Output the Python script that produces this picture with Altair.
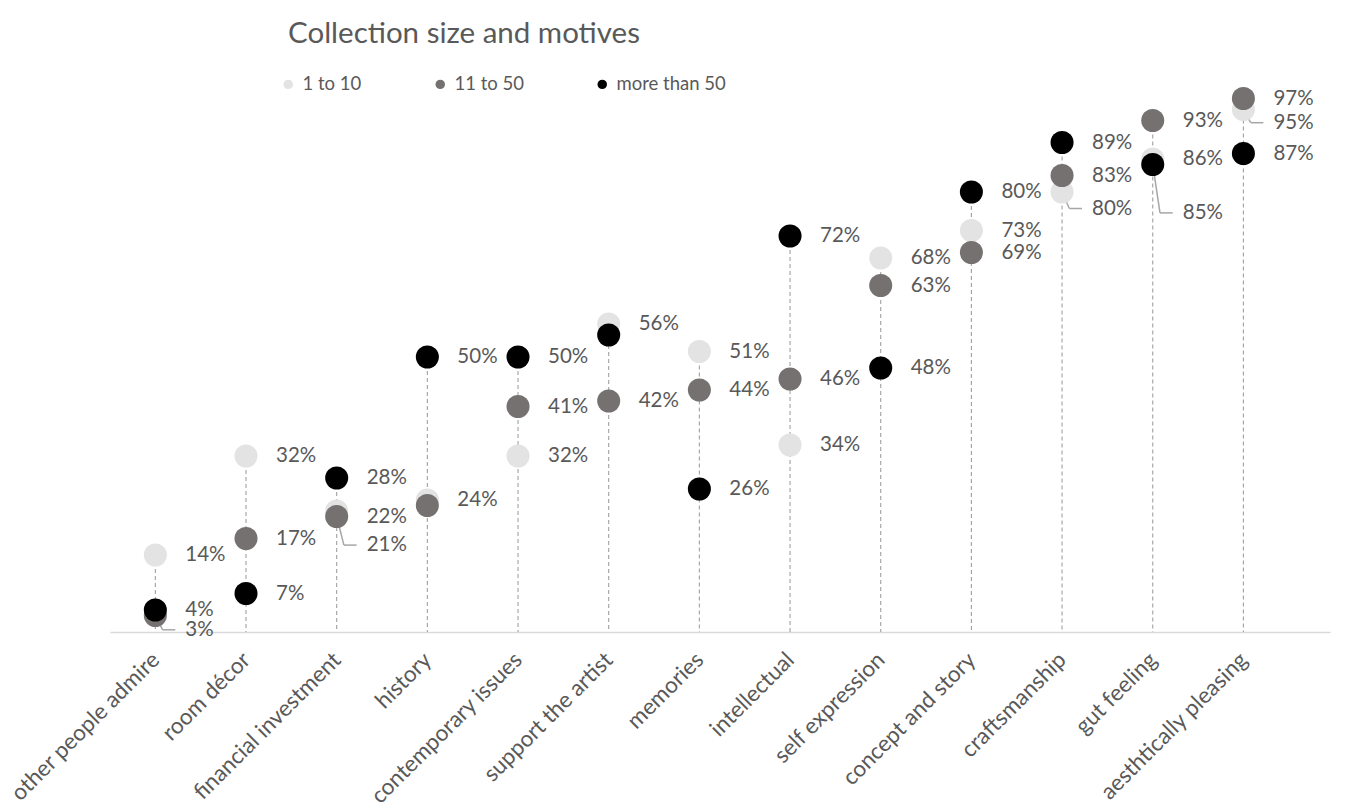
import json
import altair as alt
import pandas as pd

categories = ["other people admire", "room décor", "financial investment", "history",
              "contemporary issues", "support the artist", "memories", "intellectual",
              "self expression", "concept and story", "craftsmanship", "gut feeling",
              "aesthtically pleasing"]
series = ["1 to 10", "11 to 50", "more than 50"]
size_1_10 = [14, 32, 22, 24, 32, 56, 51, 34, 68, 73, 80, 86, 95]
size_11_50 = [3, 17, 21, 23, 41, 42, 44, 46, 63, 69, 83, 93, 97]
size_50_plus = [4, 7, 28, 50, 50, 54, 26, 72, 48, 80, 89, 85, 87]
colors = ["#e3e3e3", "#767171", "#000000"]

# label placement tweaks (label y in % units, whether a leader line is drawn)
hidden_labels = {("history", "11 to 50"), ("support the artist", "more than 50")}
label_moves = {
    ("other people admire", "11 to 50"): (0.4, True),
    ("financial investment", "1 to 10"): (20.9, False),
    ("financial investment", "11 to 50"): (15.8, True),
    ("craftsmanship", "1 to 10"): (77.0, True),
    ("gut feeling", "more than 50"): (76.2, True),
    ("aesthtically pleasing", "1 to 10"): (92.6, True),
}

rows, leaders = [], []
for s, vals in zip(series, [size_1_10, size_11_50, size_50_plus]):
    for i, (c, v) in enumerate(zip(categories, vals)):
        ly, lead = label_moves.get((c, s), (v, False))
        rows.append({"idx": i, "category": c, "series": s, "value": v,
                     "label": "" if (c, s) in hidden_labels else f"{v}%", "label_y": ly})
        if lead:
            leaders.append({"x": i, "x2": i + 0.08, "y": v, "y2": ly})
            leaders.append({"x": i + 0.08, "x2": i + 0.22, "y": ly, "y2": ly})
df = pd.DataFrame(rows)
lead_df = pd.DataFrame(leaders)
stem_df = pd.DataFrame({"idx": list(range(len(categories))),
                        "top": [max(a, b, c) for a, b, c in zip(size_1_10, size_11_50, size_50_plus)]})

FONT = "Lato"
TXT = "#595959"
xscale = alt.Scale(domain=[-0.5, 12.955], nice=False, zero=False)
yscale = alt.Scale(domain=[0, 100], nice=False)
label_expr = json.dumps(categories) + "[datum.value]"

x_axis = alt.Axis(values=list(range(len(categories))), labelExpr=label_expr, labelAngle=-45,
                  labelAlign="right", labelBaseline="middle", labelPadding=24, ticks=False,
                  grid=False, domainColor="#d9d9d9", domainWidth=1.5, title=None,
                  labelFont=FONT, labelFontSize=22.5, labelColor=TXT, labelOverlap=False,
                  labelLimit=400)

stems = alt.Chart(stem_df).mark_rule(color="#a0a0a0", strokeDash=[4, 3], strokeWidth=1.1).encode(
    x=alt.X("idx:Q", scale=xscale, axis=x_axis),
    y=alt.Y("top:Q", scale=yscale, axis=None),
    y2=alt.datum(0),
)

leader_lines = alt.Chart(lead_df).mark_rule(color="#a6a6a6", strokeWidth=1.5).encode(
    x=alt.X("x:Q", scale=xscale), x2="x2:Q",
    y=alt.Y("y:Q", scale=yscale), y2="y2:Q",
)

points = alt.Chart(df).mark_circle(size=530, opacity=1).encode(
    x=alt.X("idx:Q", scale=xscale),
    y=alt.Y("value:Q", scale=yscale),
    color=alt.Color("series:N", scale=alt.Scale(domain=series, range=colors),
                    legend=alt.Legend(title=None, orient="none", legendX=169, legendY=-7,
                                      direction="horizontal", columnPadding=69,
                                      symbolType="circle", symbolSize=90, labelFont=FONT,
                                      labelFontSize=18.5, labelColor=TXT, labelOffset=5)),
)

labels = alt.Chart(df).mark_text(align="left", baseline="middle", dx=30, font=FONT,
                                 fontSize=20.5, color=TXT).encode(
    x=alt.X("idx:Q", scale=xscale),
    y=alt.Y("label_y:Q", scale=yscale),
    text="label:N",
)

chart = alt.layer(stems, leader_lines, points, labels).properties(
    width=1220, height=550,
    autosize=alt.AutoSizeParams(type="none"),
    padding={"left": 110, "top": 82, "right": 41, "bottom": 178},
    title=alt.TitleParams("Collection size and motives", anchor="start", fontSize=29.5,
                          font=FONT, fontWeight="normal", color=TXT, dx=178, offset=26,
                          frame="group"),
).configure_view(stroke=None)

chart.save("out.html", embed_options={"renderer": "svg", "actions": False})
